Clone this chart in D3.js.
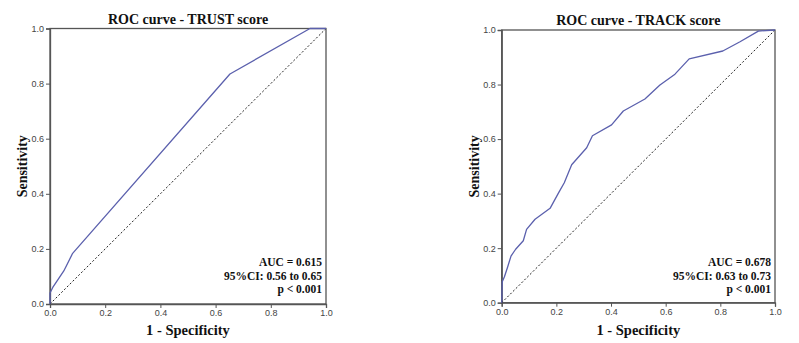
<!DOCTYPE html>
<html>
<head>
<meta charset="utf-8">
<script src="https://cdn.jsdelivr.net/npm/d3@7"></script>
<style>
  body { margin: 0; background: #fff; }
  .title, .axis-label, .stats { font-family: "Liberation Serif", "Times New Roman", serif; font-weight: bold; fill: #111; }
  .tick text { font-family: "Liberation Sans", Arial, sans-serif; font-size: 9px; fill: #444; }
</style>
</head>
<body>
<div id="graphic"></div>
<script>
// TRUST score ROC points [1 - specificity, sensitivity]
const trustFpr  = [0, 0,    0.01, 0.05, 0.082, 0.652, 0.942, 1];
const trustTpr  = [0, 0.04, 0.06, 0.12, 0.184, 0.835, 1,     1];
const trustStats = ["AUC = 0.615", "95%CI: 0.56 to 0.65", "p < 0.001"];

// TRACK score ROC points
const trackFpr = [0, 0.002, 0.01, 0.022, 0.034, 0.051, 0.079, 0.091, 0.122, 0.177, 0.207, 0.229, 0.256,
  0.311, 0.332, 0.402, 0.445, 0.524, 0.579, 0.634, 0.686, 0.809, 0.872, 0.939, 1];
const trackTpr = [0, 0.077, 0.095, 0.132, 0.171, 0.196, 0.227, 0.269, 0.306, 0.346, 0.401, 0.44, 0.506,
  0.568, 0.612, 0.652, 0.703, 0.747, 0.798, 0.838, 0.894, 0.923, 0.957, 0.996, 1];
const trackStats = ["AUC = 0.678", "95%CI: 0.63 to 0.73", "p < 0.001"];

const tickValues = [0, 0.2, 0.4, 0.6, 0.8, 1.0];

const panels = [
  { title: "ROC curve - TRUST score", fpr: trustFpr, tpr: trustTpr, stats: trustStats,
    left: 50, right: 326, top: 28.5, bottom: 304 },
  { title: "ROC curve - TRACK score", fpr: trackFpr, tpr: trackTpr, stats: trackStats,
    left: 501.7, right: 775, top: 30, bottom: 302.7 }
];

const svg = d3.select('#graphic').append('svg')
  .attr('width', 799)
  .attr('height', 343);

panels.forEach(function (p) {
  const x = d3.scaleLinear().domain([0, 1]).range([p.left, p.right]);
  const y = d3.scaleLinear().domain([0, 1]).range([p.bottom, p.top]);
  const g = svg.append('g');

  // frame
  g.append('rect')
    .attr('x', x(0)).attr('y', y(1))
    .attr('width', x(1) - x(0)).attr('height', y(0) - y(1))
    .attr('fill', 'none').attr('stroke', '#555').attr('stroke-width', 1.3);

  const fmt = d3.format('.1f');
  g.append('g')
    .attr('class', 'x axis')
    .attr('transform', `translate(0, ${y(0)})`)
    .call(d3.axisBottom(x).tickValues(tickValues).tickFormat(fmt).tickSize(4).tickPadding(2))
    .call(a => a.select('.domain').attr('stroke', '#555').attr('stroke-width', 1.3))
    .call(a => a.selectAll('.tick line').attr('stroke', '#555'));

  g.append('g')
    .attr('class', 'y axis')
    .attr('transform', `translate(${x(0)}, 0)`)
    .call(d3.axisLeft(y).tickValues(tickValues).tickFormat(fmt).tickSize(4).tickPadding(2))
    .call(a => a.select('.domain').attr('stroke', '#555').attr('stroke-width', 1.3))
    .call(a => a.selectAll('.tick line').attr('stroke', '#555'));

  // reference diagonal
  g.append('line')
    .attr('x1', x(0)).attr('y1', y(0))
    .attr('x2', x(1)).attr('y2', y(1))
    .attr('stroke', '#222').attr('stroke-width', 1)
    .attr('stroke-dasharray', '2,2');

  // ROC curve
  const pts = p.fpr.map((f, i) => [f, p.tpr[i]]);
  g.append('path')
    .datum(pts)
    .attr('fill', 'none')
    .attr('stroke', '#5b60ad')
    .attr('stroke-width', 1.3)
    .attr('stroke-linejoin', 'round')
    .attr('d', d3.line().x(d => x(d[0])).y(d => y(d[1])));

  const cx = (x(0) + x(1)) / 2;

  g.append('text')
    .attr('class', 'title')
    .attr('x', cx).attr('y', y(1) - 5)
    .attr('text-anchor', 'middle')
    .style('font-size', '14px')
    .text(p.title);

  g.append('text')
    .attr('class', 'axis-label')
    .attr('x', cx).attr('y', 335)
    .attr('text-anchor', 'middle')
    .style('font-size', '14.5px')
    .text('1 - Specificity');

  g.append('text')
    .attr('class', 'axis-label')
    .attr('transform', `translate(${x(0) - 23}, ${(y(0) + y(1)) / 2}) rotate(-90)`)
    .attr('text-anchor', 'middle')
    .style('font-size', '14px')
    .text('Sensitivity');

  p.stats.forEach(function (s, i) {
    g.append('text')
      .attr('class', 'stats')
      .attr('x', x(1) - 4)
      .attr('y', 266 + i * 13.5)
      .attr('text-anchor', 'end')
      .style('font-size', '11.5px')
      .text(s);
  });
});
</script>
</body>
</html>
